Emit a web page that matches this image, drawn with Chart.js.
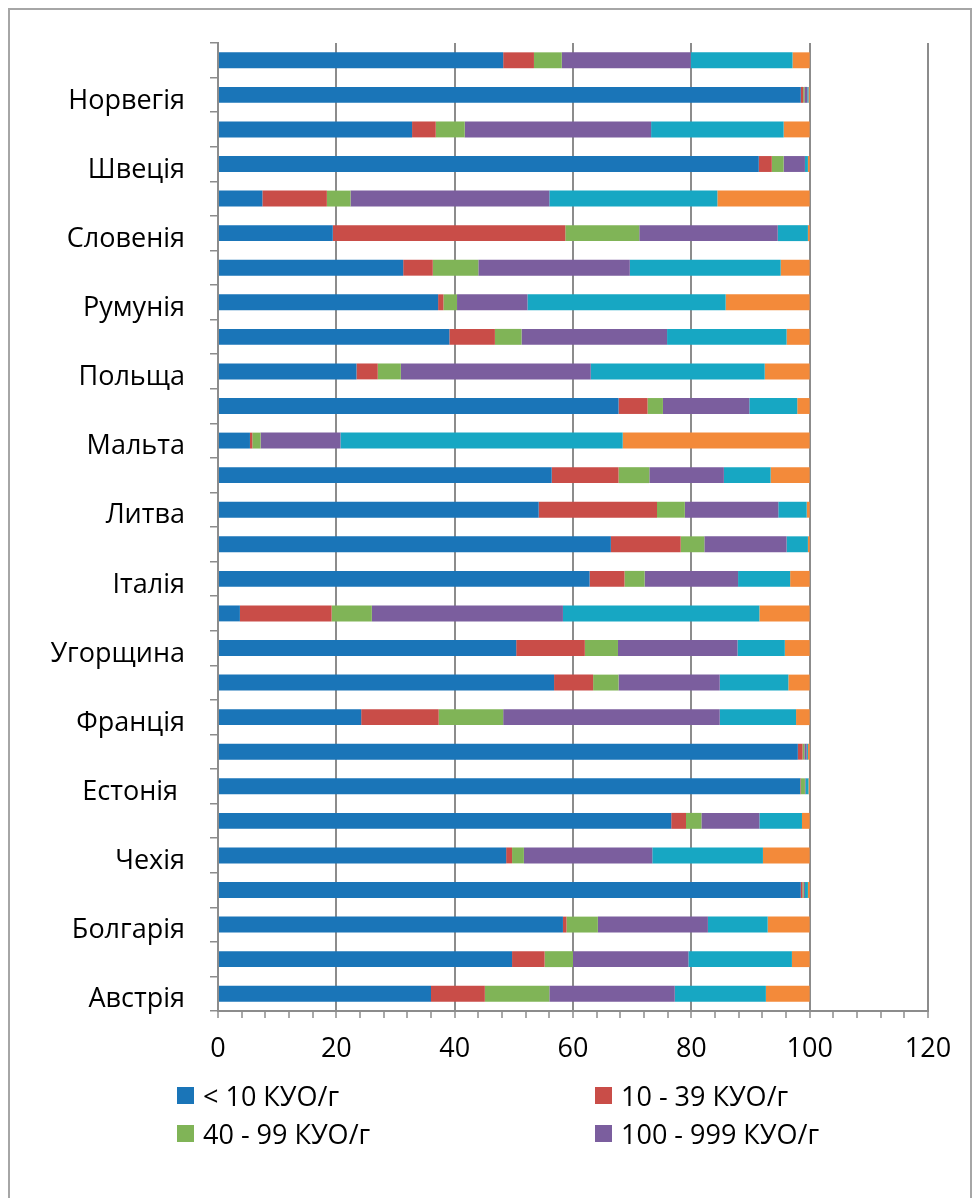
<!DOCTYPE html>
<html lang="uk">
<head>
<meta charset="utf-8">
<title>КУО/г</title>
<script src="https://cdn.jsdelivr.net/npm/chart.js@4.4.1/dist/chart.umd.min.js"></script>
<style>
  html, body { margin: 0; padding: 0; background: #fff; }
  #wrap { position: relative; width: 979px; height: 1198px; overflow: hidden; }
  #frame { position: absolute; left: 8px; top: 8px; width: 960px; height: 1220px; border: 2px solid #a6a6a6; }
  canvas { position: absolute; left: 0; top: 0; }
  .lg-item { position: absolute; display: flex; align-items: center; font-family: 'Open Sans', sans-serif; font-size: 27px; color: #000; white-space: nowrap; line-height: 1; }
  .lg-box { width: 17px; height: 17px; margin-right: 9px; flex: none; }
</style>
</head>
<body>
<div id="wrap">
  <div id="frame"></div>
  <canvas id="chart" width="979" height="1198"></canvas>
  <div id="legend"></div>
</div>
<script>
// Категорії зверху вниз (підписана кожна друга смуга, як на рисунку)
const countries = ['', 'Норвегія', '', 'Швеція', '', 'Словенія', '', 'Румунія', '', 'Польща',
  '', 'Мальта', '', 'Литва', '', 'Італія', '', 'Угорщина', '', 'Франція',
  '', 'Естонія ', '', 'Чехія', '', 'Болгарія', '', 'Австрія'];

// Частки зразків, %
const below10 = [48.2, 98.5, 32.8, 91.4, 7.5, 19.4, 31.3, 37.2, 39.1, 23.4, 67.7, 5.4, 56.4, 54.2,
  66.4, 62.8, 3.7, 50.4, 56.8, 24.2, 98.0, 98.4, 76.6, 48.7, 98.5, 58.3, 49.7, 36.0];
const from10to39 = [5.2, 0.4, 4.0, 2.2, 10.9, 39.3, 5.0, 0.9, 7.7, 3.6, 4.9, 0.4, 11.3, 20.0,
  11.8, 5.9, 15.5, 11.6, 6.6, 13.1, 0.8, 0.1, 2.5, 1.0, 0.3, 0.6, 5.5, 9.1];
const from40to99 = [4.7, 0.2, 4.9, 2.0, 4.0, 12.5, 7.7, 2.3, 4.5, 3.9, 2.6, 1.4, 5.2, 4.7,
  4.0, 3.4, 6.8, 5.6, 4.3, 10.9, 0.3, 0.7, 2.6, 2.0, 0.2, 5.3, 4.8, 10.9];
const from100to999 = [21.8, 0.5, 31.5, 3.6, 33.6, 23.4, 25.6, 11.9, 24.6, 32.1, 14.6, 13.5, 12.6, 15.8,
  13.9, 15.8, 32.3, 20.2, 17.1, 36.6, 0.4, 0.1, 9.8, 21.7, 0.2, 18.6, 19.5, 21.2];
const from1000to9999 = [17.2, 0.2, 22.4, 0.5, 28.4, 5.1, 25.5, 33.5, 20.2, 29.4, 8.1, 47.7, 7.9, 4.8,
  3.6, 8.8, 33.2, 8.0, 11.6, 12.9, 0.2, 0.5, 7.2, 18.7, 0.5, 10.1, 17.5, 15.4];
const over10000 = [2.9, 0.2, 4.4, 0.3, 15.6, 0.3, 4.9, 14.2, 3.9, 7.6, 2.1, 31.6, 6.6, 0.5,
  0.3, 3.3, 8.5, 4.2, 3.6, 2.3, 0.3, 0.2, 1.3, 7.9, 0.3, 7.1, 3.0, 7.4];

const seriesNames = ['< 10 КУО/г', '10 - 39 КУО/г', '40 - 99 КУО/г', '100 - 999 КУО/г',
  '1000 - 9999 КУО/г', '> 10000 КУО/г'];
const seriesColors = ['#1A75B8', '#C94D48', '#80B457', '#7B5E9E', '#17A7C3', '#F38A3A'];
const xTickLabels = [0, 20, 40, 60, 80, 100, 120];

const gridGray = '#8c8c8c';
const font = { family: "'Open Sans', sans-serif", size: 27 };

const seriesData = [below10, from10to39, from40to99, from100to999, from1000to9999, over10000];

const chart = new Chart(document.getElementById('chart'), {
    type: 'bar',
    data: {
        labels: countries,
        datasets: seriesData.map((d, i) => ({
            label: seriesNames[i],
            data: d,
            backgroundColor: seriesColors[i],
            borderWidth: 0,
            barPercentage: 0.46,
            categoryPercentage: 1
        }))
    },
    options: {
        indexAxis: 'y',
        responsive: false,
        animation: false,
        layout: { padding: { left: 20, right: 51, top: 43, bottom: 0 } },
        plugins: {
            legend: { display: false },
            tooltip: { enabled: false }
        },
        scales: {
            x: {
                stacked: true,
                min: 0,
                max: 120,
                afterFit: s => { s.height = 187; },
                ticks: {
                    stepSize: 4,
                    autoSkip: false,
                    maxRotation: 0,
                    padding: 15,
                    color: '#000',
                    font: font,
                    callback: v => xTickLabels.includes(v) ? String(v) : ''
                },
                grid: {
                    color: ctx => (ctx.tick && ctx.tick.value % 20 === 0) ? gridGray : 'rgba(0,0,0,0)',
                    lineWidth: 2,
                    tickColor: gridGray,
                    tickLength: 7,
                    tickWidth: 1.5
                },
                border: { color: gridGray, width: 2 }
            },
            y: {
                stacked: true,
                afterFit: s => { s.width = 198; },
                ticks: { autoSkip: false, padding: 25, labelOffset: 6, color: '#000', font: font },
                grid: { drawOnChartArea: false, offset: true, color: gridGray, tickLength: 8, lineWidth: 1.5 },
                border: { color: gridGray, width: 2 }
            }
        }
    }
});

// Легенда: показано лише перші чотири серії, у два стовпці
const legendSpots = [[177, 1095], [595, 1095], [177, 1133], [595, 1133]];
const legendEl = document.getElementById('legend');
chart.data.datasets.slice(0, 4).forEach((ds, i) => {
    const item = document.createElement('div');
    item.className = 'lg-item';
    item.style.left = legendSpots[i][0] + 'px';
    item.style.top = (legendSpots[i][1] - 14) + 'px';
    item.style.height = '28px';
    const box = document.createElement('span');
    box.className = 'lg-box';
    box.style.background = ds.backgroundColor;
    const txt = document.createElement('span');
    txt.textContent = ds.label;
    item.appendChild(box);
    item.appendChild(txt);
    legendEl.appendChild(item);
});
</script>
</body>
</html>
